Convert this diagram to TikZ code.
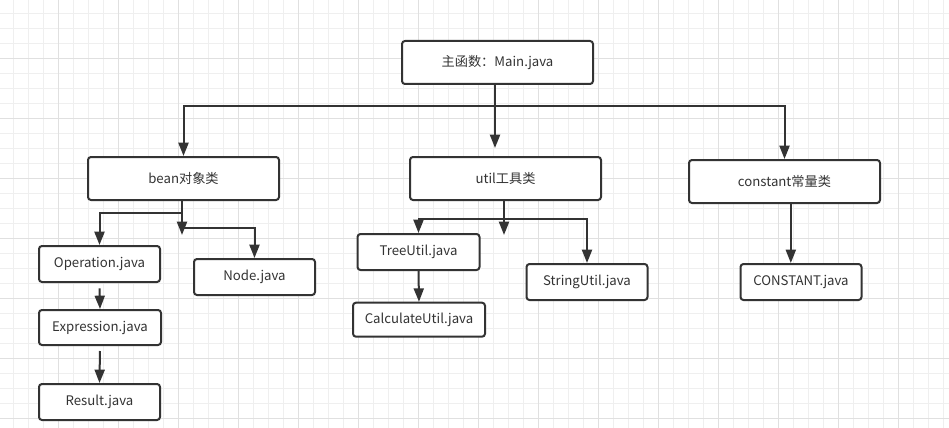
\documentclass[tikz,border=0pt]{standalone}
\usepackage{fontspec}
\setmainfont{Noto Sans CJK SC}
\usetikzlibrary{arrows.meta}
\definecolor{ink}{HTML}{333333}
\definecolor{gminor}{HTML}{EFEFEF}
\definecolor{gmajor}{HTML}{E0E0E0}
\tikzset{
  box/.style={draw=ink, line width=1.5pt, rounded corners=2.25pt, fill=white,
    text=ink, font=\fontsize{9.9pt}{11pt}\selectfont, inner sep=0pt},
  arr/.style={draw=ink, line width=1.5pt, -{Triangle[length=10pt,width=7.5pt]}},
  ln/.style={draw=ink, line width=1.5pt},
}
\begin{document}
\begin{tikzpicture}[x=0.75pt,y=-0.75pt]
\useasboundingbox (0,0) rectangle (949,428);
\fill[white] (0,0) rectangle (949,428);
% grid
\foreach \k in {0,...,63} {
  \draw[gminor, line width=0.75pt] ({13.33+15*\k},0) -- ({13.33+15*\k},428);
}
\foreach \k in {0,...,28} {
  \draw[gminor, line width=0.75pt] (0,{13.33+15*\k}) -- (949,{13.33+15*\k});
}
\foreach \k in {0,...,15} {
  \draw[gmajor, line width=0.75pt] ({58.33+60*\k},0) -- ({58.33+60*\k},428);
}
\foreach \k in {0,...,6} {
  \draw[gmajor, line width=0.75pt] (0,{58.33+60*\k}) -- (949,{58.33+60*\k});
}
% nodes
\node[box, minimum width=143.25pt, minimum height=32.25pt] (main) at (497.5,62.5) {主函数：Main.java};
\node[box, minimum width=143.25pt, minimum height=32.25pt] (bean) at (183.5,178.5) {bean对象类};
\node[box, minimum width=143.25pt, minimum height=32.25pt] (util) at (505.5,178.5) {util工具类};
\node[box, minimum width=143.25pt, minimum height=32.25pt] (const) at (784.5,181.5) {constant常量类};
\node[box, minimum width=90.75pt, minimum height=27pt] (op) at (99.5,264) {Operation.java};
\node[box, minimum width=90.75pt, minimum height=27pt] (nd) at (254.5,277) {Node.java};
\node[box, minimum width=91.5pt, minimum height=26.25pt] (expr) at (100,327.5) {Expression.java};
\node[box, minimum width=90.75pt, minimum height=27pt] (res) at (99.5,402) {Result.java};
\node[box, minimum width=91.5pt, minimum height=27pt] (tree) at (418.5,252) {TreeUtil.java};
\node[box, minimum width=99pt, minimum height=25.5pt] (calc) at (419,319.7) {CalculateUtil.java};
\node[box, minimum width=90.75pt, minimum height=27pt] (str) at (587,282) {StringUtil.java};
\node[box, minimum width=90.75pt, minimum height=27pt] (cst) at (801,282) {CONSTANT.java};
% coordinates
\coordinate (bus) at (495,106);
\coordinate (bj) at (182,212.7);
\coordinate (bk) at (182,228);
\coordinate (bdang) at (182,235);
\coordinate (uj) at (504,218.5);
\coordinate (udang) at (504,235);
\coordinate (cx) at (790.8,0);
% connectors
\draw[arr] (main.south -| bus) -- (bus) -| (bean.north);
\draw[arr] (bus) -| (const.north);
\draw[arr, shorten >=6pt] (main.south -| bus) -- (util.north -| bus);
\draw[arr] (bean.south -| bj) -- (bj) -| (op.north);
\draw[arr] (bj) -- (bdang);
\draw[arr] (bk) -| (nd.north);
\draw[arr, shorten <=4pt] (op.south) -- (expr.north);
\draw[arr, shorten <=3.75pt] (expr.south) -- (res.north);
\draw[arr] (util.south -| uj) -- (uj) -| (tree.north);
\draw[arr] (uj) -- (udang);
\draw[arr] (uj) -| (str.north);
\draw[arr] (tree.south) -- (calc.north);
\draw[arr] (const.south -| cx) -- (cst.north -| cx);
\end{tikzpicture}
\end{document}
